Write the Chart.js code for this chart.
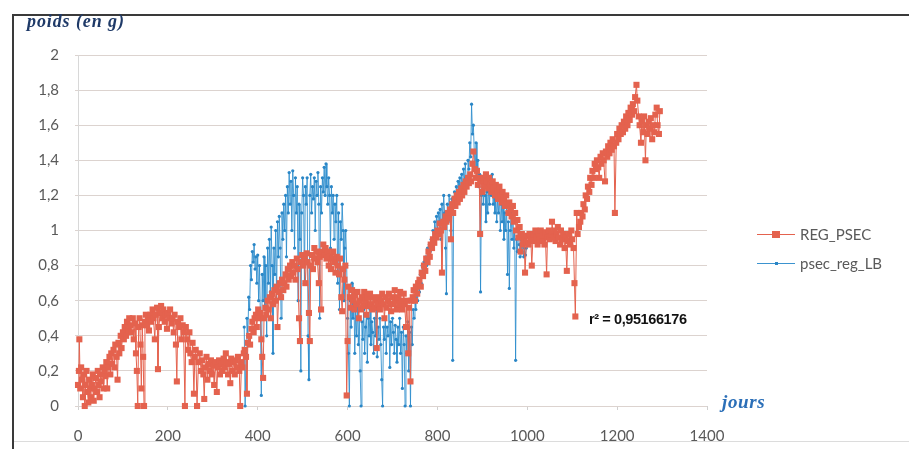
<!DOCTYPE html>
<html lang="fr">
<head>
<meta charset="utf-8">
<title>poids (en g)</title>
<script src="https://cdn.jsdelivr.net/npm/chart.js@4.4.1/dist/chart.umd.min.js"></script>
<style>
    html, body { margin: 0; padding: 0; background: #fff; }
    #wrap { position: relative; width: 909px; height: 449px; overflow: hidden; }
    #chart { position: absolute; left: 0; top: 0; }
    .frame-left { position: absolute; left: 12px; top: 14px; width: 2px; height: 435px; background: #3a3a3a; }
    .frame-top { position: absolute; left: 12px; top: 14px; width: 897px; height: 2px; background: #3a3a3a; }
    .frame-bottom { position: absolute; left: 14px; top: 441px; width: 895px; height: 1px; background: #dcdcdc; }
    .ytitle { position: absolute; left: 27px; top: 11px; font: italic bold 18px "Liberation Serif", serif; color: #1f3a68; letter-spacing: 0.9px; }
    .xtitle { position: absolute; left: 722px; top: 391px; font: italic bold 19px "Liberation Serif", serif; color: #2b6fb8; letter-spacing: 0.6px; }
    .r2 { position: absolute; left: 589px; top: 311px; font: bold 14.5px "Liberation Sans", sans-serif; color: #111; letter-spacing: -0.4px; }
    .legend { position: absolute; left: 757px; font: 15px Lato, sans-serif; color: #595959; }
    .legend .mark { position: absolute; left: 0; width: 38px; height: 1px; }
    .legend .dot { position: absolute; }
    .legend span { position: absolute; left: 43px; white-space: nowrap; }
</style>
</head>
<body>
<div id="wrap">
    <canvas id="chart" width="909" height="449"></canvas>
    <div class="frame-left"></div>
    <div class="frame-top"></div>
    <div class="frame-bottom"></div>
    <div class="ytitle">poids (en g)</div>
    <div class="xtitle">jours</div>
    <div class="r2">r² = 0,95166176</div>
    <div class="legend" style="top:225px">
        <div class="mark" style="top:9px;background:#e4624e"></div>
        <div class="dot" style="left:15px;top:6px;width:8px;height:7px;background:#e4624e"></div>
        <span style="top:0">REG_PSEC</span>
    </div>
    <div class="legend" style="top:254px">
        <div class="mark" style="top:9px;background:#3b93cf"></div>
        <div class="dot" style="left:18px;top:8px;width:3px;height:3px;background:#2a86c6"></div>
        <span style="top:0">psec_reg_LB</span>
    </div>
</div>
<script>
// Axis ticks
const xTickLabels = ['0', '200', '400', '600', '800', '1000', '1200', '1400'];
const yTickLabels = ['0', '0,2', '0,4', '0,6', '0,8', '1', '1,2', '1,4', '1,6', '1,8', '2'];

// REG_PSEC : [jour, poids]
const regPsec = [
    [0,0.12],[2,0.2],[3,0.38],[5,0.1],[7,0.22],[9,0.15],[11,0.05],[13,0.18],[15,0.0],[17,0.12],[19,0.2],[21,0.08],[23,0.02],[25,0.15],[27,0.1],[29,0.05],
    [31,0.12],[33,0.18],[35,0.03],[37,0.1],[40,0.16],[42,0.08],[44,0.2],[46,0.12],[48,0.05],[50,0.18],[52,0.14],[55,0.22],[57,0.1],[59,0.2],
    [61,0.17],[63,0.25],[65,0.1],[67,0.22],[70,0.28],[72,0.18],[74,0.3],[76,0.24],[79,0.32],[81,0.22],[83,0.35],[86,0.28],[88,0.15],[90,0.36],[92,0.3],[95,0.4],[97,0.33],[100,0.42],
    [102,0.38],[104,0.45],[107,0.4],[109,0.48],[112,0.43],[114,0.5],[117,0.46],[119,0.42],[122,0.5],[124,0.38],[127,0.47],[129,0.3],[131,0.2],[133,0.0],[135,0.45],[137,0.5],[139,0.35],[141,0.1],[143,0.46],[145,0.28],[147,0.0],[149,0.48],
    [151,0.52],[154,0.46],[156,0.5],[158,0.43],[161,0.52],[163,0.48],[166,0.55],[168,0.5],[171,0.38],[173,0.52],[176,0.56],[178,0.21],[180,0.45],[183,0.53],[185,0.57],[188,0.5],[190,0.55],[193,0.48],[195,0.52],[198,0.44],[200,0.53],[203,0.5],[205,0.55],[208,0.47],
    [210,0.5],[213,0.42],[215,0.52],[218,0.35],[220,0.14],[222,0.48],[225,0.45],[228,0.5],[230,0.38],[233,0.46],[235,0.42],[238,0.0],[240,0.45],[243,0.38],[245,0.32],[248,0.42],[250,0.3],[253,0.25],[255,0.36],[258,0.07],[260,0.28],[262,0.32],[265,0.0],[268,0.25],
    [271,0.3],[274,0.2],[276,0.26],[279,0.18],[281,0.04],[283,0.22],[286,0.28],[288,0.15],[291,0.24],[293,0.2],[296,0.26],[298,0.18],[301,0.23],[303,0.12],[306,0.25],[309,0.08],[311,0.22],[314,0.26],[316,0.18],[319,0.24],
    [321,0.2],[324,0.27],[326,0.22],[329,0.3],[331,0.25],[334,0.18],[336,0.24],[339,0.13],[341,0.27],[344,0.2],[346,0.25],[349,0.18],[351,0.26],[354,0.22],[356,0.28],[359,0.2],[361,0.0],[364,0.25],[366,0.22],[369,0.3],
    [371,0.32],[374,0.28],[376,0.07],[378,0.36],[381,0.4],[383,0.35],[386,0.44],[388,0.48],[391,0.42],[393,0.5],[396,0.52],[398,0.45],[401,0.55],[403,0.5],[406,0.53],[408,0.38],[410,0.28],[412,0.16],[414,0.5],[417,0.56],[419,0.52],
    [422,0.6],[424,0.55],[427,0.62],[429,0.5],[432,0.64],[434,0.58],[437,0.66],[439,0.6],[442,0.68],[444,0.45],[447,0.65],[449,0.7],[452,0.62],[454,0.72],[457,0.66],[459,0.7],[462,0.75],[464,0.68],[467,0.78],[469,0.72],[472,0.8],[474,0.74],[477,0.82],[479,0.76],
    [482,0.8],[484,0.72],[487,0.84],[489,0.78],[492,0.5],[494,0.37],[496,0.82],[499,0.86],[501,0.8],[504,0.84],[506,0.7],[509,0.87],[511,0.82],[514,0.53],[516,0.37],[518,0.8],[521,0.86],[523,0.78],[526,0.9],[528,0.84],[531,0.88],[533,0.82],[536,0.7],[538,0.85],[541,0.55],[543,0.88],
    [546,0.92],[548,0.86],[551,0.9],[553,0.84],[556,0.88],[558,0.8],[561,0.85],[563,0.78],[566,0.84],[568,0.88],[571,0.82],[573,0.76],[576,0.85],[578,0.8],[581,0.75],[583,0.84],[586,0.62],[588,0.54],[590,0.78],[593,0.72],[595,0.8],[598,0.06],[600,0.37],
    [602,0.68],[605,0.62],[607,0.56],[610,0.66],[612,0.6],[615,0.55],[617,0.63],[620,0.58],[622,0.65],[625,0.5],[627,0.6],[630,0.55],[632,0.62],[635,0.57],[637,0.65],[640,0.6],[642,0.52],[645,0.62],[647,0.57],[650,0.64],[652,0.58],[655,0.55],[657,0.62],[660,0.56],
    [662,0.6],[665,0.33],[667,0.58],[670,0.62],[672,0.55],[675,0.6],[677,0.64],[680,0.58],[682,0.5],[685,0.62],[687,0.56],[690,0.6],[692,0.64],[695,0.58],[697,0.54],[700,0.62],[702,0.58],[705,0.66],[707,0.6],[710,0.55],[712,0.62],[715,0.58],[717,0.65],[720,0.6],
    [722,0.55],[725,0.64],[727,0.58],[730,0.45],[732,0.6],[735,0.3],[737,0.56],[740,0.14],[742,0.6],[745,0.62],[747,0.66],[750,0.6],[752,0.68],[755,0.64],[757,0.7],
    [760,0.72],[763,0.68],[765,0.76],[768,0.74],[770,0.8],[773,0.77],[775,0.84],[778,0.82],[780,0.88],[783,0.85],[785,0.92],[788,0.9],[790,0.95],[793,0.93],[795,0.98],[798,0.96],[800,1.0],[803,0.98],[805,1.04],[808,1.0],[810,0.76],[813,1.05],[815,1.02],[818,1.08],
    [820,1.05],[823,1.1],[825,1.07],[828,1.12],[830,0.95],[833,1.15],[835,1.1],[838,1.18],[840,1.14],[843,1.2],[845,1.16],[848,1.22],[850,1.18],[853,1.24],[855,1.2],[858,1.26],[860,1.22],[863,1.28],[865,1.25],[868,1.3],[870,1.27],[873,1.32],[875,1.28],[878,1.38],[880,1.45],[883,1.35],
    [885,1.3],[888,1.34],[890,1.26],[893,1.3],[895,0.98],[898,1.28],[900,1.22],[903,1.3],[905,1.25],[908,1.32],[910,1.28],[913,1.24],[915,1.3],[918,1.26],[920,1.22],[923,1.28],[925,1.24],[928,1.2],[930,1.26],[933,1.22],[935,1.18],[938,1.25],[940,1.2],[943,1.16],
    [945,1.22],[948,1.18],[950,1.14],[953,1.2],[955,1.15],[958,1.1],[960,1.16],[963,1.12],[965,1.08],[968,1.14],[970,1.05],[973,1.1],[975,1.0],[978,1.06],[980,0.96],[983,1.02],[985,0.88],[988,0.98],[990,0.92],[993,0.95],[995,0.76],[998,0.93],
    [1000,0.97],[1003,0.92],[1005,0.98],[1008,0.95],[1010,0.8],[1013,0.98],[1015,0.94],[1018,1.0],[1020,0.96],[1023,0.92],[1025,0.98],[1028,0.95],[1030,1.0],[1033,0.94],[1035,0.97],[1038,0.92],[1040,0.99],[1043,0.75],[1045,0.96],[1048,1.0],[1050,0.95],[1053,0.98],
    [1055,1.05],[1058,0.96],[1060,1.0],[1063,0.94],[1065,0.98],[1068,1.02],[1070,0.96],[1073,0.92],[1075,1.0],[1078,0.95],[1080,0.98],[1083,0.9],[1085,0.96],[1088,0.77],[1090,0.94],[1093,0.98],[1095,0.92],[1098,1.0],[1100,0.95],[1103,0.9],[1105,0.7],[1107,0.51],[1110,1.1],[1112,0.98],
    [1115,1.02],[1118,1.05],[1120,1.1],[1123,1.08],[1125,1.15],[1128,1.12],[1130,1.2],[1133,1.18],[1135,1.25],[1138,1.22],[1140,1.3],[1143,1.26],[1145,1.34],[1148,1.3],[1150,1.38],[1153,1.35],[1155,1.4],[1158,1.36],[1160,1.3],[1163,1.42],[1165,1.38],[1168,1.44],[1170,1.4],[1173,1.28],
    [1175,1.45],[1178,1.42],[1180,1.48],[1183,1.44],[1185,1.5],[1188,1.46],[1190,1.52],[1193,1.48],[1195,1.1],[1198,1.5],[1200,1.55],[1203,1.52],[1205,1.58],[1208,1.55],[1210,1.6],[1213,1.56],[1215,1.62],[1218,1.58],[1220,1.65],[1223,1.6],[1225,1.67],[1228,1.63],[1230,1.7],[1233,1.66],
    [1235,1.72],[1238,1.68],[1240,1.76],[1243,1.83],[1245,1.74],[1248,1.65],[1250,1.6],[1253,1.5],[1255,1.62],[1258,1.56],[1260,1.65],[1263,1.4],[1265,1.6],[1268,1.55],[1270,1.62],[1273,1.58],[1275,1.64],[1278,1.52],[1280,1.6],[1283,1.56],[1285,1.66],[1288,1.7],[1290,1.6],[1293,1.55],[1295,1.68]
];

// psec_reg_LB : [jour, poids]
const psecRegLB = [
    [370,0.45],[372,0.0],[374,0.3],[376,0.5],[378,0.4],[380,0.62],[382,0.55],[384,0.8],[386,0.72],[388,0.88],[390,0.82],[392,0.92],[394,0.78],[396,0.85],[398,0.7],[400,0.86],[402,0.6],[404,0.8],[406,0.5],[408,0.06],[410,0.75],[412,0.6],[414,0.85],[416,0.55],[418,0.8],
    [420,0.4],[422,0.9],[424,0.7],[426,0.95],[428,0.65],[430,1.02],[432,0.8],[434,0.3],[436,0.9],[438,0.75],[440,1.0],[442,0.6],[444,1.05],[446,0.85],[448,1.08],[450,0.9],[452,0.5],[454,1.1],[456,0.95],[458,1.15],[460,1.0],[462,1.2],[464,0.85],[466,1.25],[468,1.1],
    [470,1.33],[472,1.15],[474,1.28],[476,1.0],[478,1.34],[480,1.2],[482,0.9],[484,1.3],[486,1.1],[488,1.25],[490,0.6],[492,1.15],[494,0.95],[496,0.2],[498,1.1],[500,1.3],[502,1.2],[504,0.7],[506,1.25],[508,1.15],[510,1.3],[512,0.4],[514,0.15],[516,1.2],[518,1.32],
    [520,1.1],[522,1.25],[524,1.18],[526,1.3],[528,1.0],[530,1.28],[532,1.2],[534,1.33],[536,1.15],[538,0.5],[540,1.25],[542,1.1],[544,1.3],[546,1.22],[548,1.36],[550,1.2],[552,1.38],[554,1.25],[556,1.15],[558,1.3],[560,1.2],[562,0.9],[564,1.25],[566,1.1],[568,1.2],
    [570,0.95],[572,1.15],[574,1.05],[576,1.2],[578,0.7],[580,1.1],[582,0.55],[584,1.05],[586,0.95],[588,1.15],[590,1.0],[592,0.6],[594,0.9],[596,1.0],[598,0.8],[600,0.5],[602,0.3],[604,0.0],[606,0.6],[608,0.45],[610,0.7],[612,0.5],[614,0.65],[616,0.3],[618,0.55],
    [620,0.4],[622,0.58],[624,0.35],[626,0.5],[628,0.2],[630,0.0],[632,0.48],[634,0.38],[636,0.55],[638,0.3],[640,0.45],[642,0.52],[644,0.25],[646,0.5],[648,0.4],[650,0.55],[652,0.35],[654,0.48],[656,0.42],[658,0.3],[660,0.5],[662,0.4],[664,0.55],[666,0.28],[668,0.45],
    [670,0.38],[672,0.5],[674,0.35],[676,0.15],[678,0.0],[680,0.45],[682,0.38],[684,0.5],[686,0.3],[688,0.45],[690,0.4],[692,0.55],[694,0.22],[696,0.48],[698,0.35],[700,0.5],[702,0.42],[704,0.3],[706,0.46],[708,0.38],[710,0.25],[712,0.45],[714,0.35],[716,0.5],[718,0.3],
    [720,0.42],[722,0.1],[724,0.45],[726,0.35],[728,0.0],[730,0.4],[732,0.3],[734,0.48],[736,0.2],[738,0.42],[740,0.0],[742,0.45],[744,0.35],[746,0.55],[748,0.5],[750,0.62],[752,0.55],[754,0.68],[756,0.6],[758,0.72],[760,0.65],[762,0.75],[764,0.7],[766,0.8],[768,0.74],
    [770,0.82],[772,0.78],[774,0.85],[776,0.8],[778,0.9],[780,0.86],[782,0.92],[784,0.88],[786,0.95],[788,0.9],[790,1.0],[792,0.94],[794,1.05],[796,0.98],[798,1.08],[800,1.0],[802,1.1],[804,1.05],[806,1.12],[808,0.95],[810,1.15],[812,1.05],[814,1.2],[816,1.1],[818,0.9],
    [820,0.64],[822,1.15],[824,1.05],[826,1.2],[828,1.1],[830,1.0],[832,1.18],[834,0.26],[836,1.1],[838,1.22],[840,1.15],[842,1.25],[844,1.18],[846,1.28],[848,1.2],[850,1.3],[852,1.22],[854,1.32],[856,1.25],[858,1.35],[860,1.28],[862,1.38],[864,1.3],[866,1.25],[868,1.4],
    [870,1.35],[872,1.5],[874,1.42],[876,1.72],[878,1.55],[880,1.6],[882,1.45],[884,1.35],[886,1.5],[888,1.3],[890,1.4],[892,1.25],[894,1.32],[896,0.65],[898,1.2],[900,1.3],[902,1.15],[904,1.25],[906,1.2],[908,1.05],[910,1.22],[912,1.1],[914,1.25],[916,1.15],[918,1.3],
    [920,1.2],[922,1.32],[924,1.15],[926,1.25],[928,1.1],[930,1.2],[932,1.05],[934,1.18],[936,1.1],[938,1.2],[940,1.0],[942,1.15],[944,1.05],[946,1.2],[948,0.95],[950,1.1],[952,1.0],[954,1.15],[956,0.75],[958,1.05],[960,0.67],[962,1.0],[964,1.1],[966,0.95],[968,1.05],
    [970,0.9],[972,1.0],[974,0.26],[976,0.95],[978,0.88],[980,1.0],[982,0.92],[984,0.85],[986,0.95],[988,0.88],[990,0.92],[992,0.85],[994,0.9],[996,0.86],[998,0.9]
];

const toPoints = rows => rows.map(r => ({ x: r[0], y: r[1] }));

const ctx = document.getElementById('chart');
new Chart(ctx, {
    type: 'scatter',
    data: {
        datasets: [
            {
                label: 'REG_PSEC',
                data: toPoints(regPsec),
                showLine: true,
                borderColor: '#e4624e',
                backgroundColor: '#e4624e',
                borderWidth: 1,
                pointStyle: 'rect',
                pointRadius: 4.3,
                pointBorderWidth: 0,
                clip: 8
            },
            {
                label: 'psec_reg_LB',
                data: toPoints(psecRegLB),
                showLine: true,
                borderColor: 'rgba(42, 140, 204, 0.85)',
                backgroundColor: '#2a86c6',
                borderWidth: 1,
                pointStyle: 'circle',
                pointRadius: 1.6,
                pointBorderWidth: 0,
                clip: 8
            }
        ]
    },
    options: {
        responsive: false,
        animation: false,
        layout: { padding: { top: 55, right: 202, bottom: 0, left: 0 } },
        plugins: {
            legend: { display: false },
            tooltip: { enabled: false }
        },
        scales: {
            x: {
                type: 'linear',
                min: 0,
                max: 1400,
                afterBuildTicks: s => { s.ticks = xTickLabels.map(t => ({ value: Number(t) })); },
                afterFit: s => { s.height = 43; },
                grid: { display: true, drawOnChartArea: false, drawTicks: true, tickLength: 4, color: '#d0d0d0' },
                border: { display: false },
                ticks: {
                    callback: (v, i) => xTickLabels[i],
                    color: '#595959',
                    font: { family: 'Lato', size: 15 },
                    padding: 17,
                    maxRotation: 0
                }
            },
            y: {
                min: 0,
                max: 2,
                afterBuildTicks: s => { s.ticks = yTickLabels.map((t, i) => ({ value: i * 0.2 })); },
                afterFit: s => { s.width = 78; },
                grid: { color: '#dcd3cf', lineWidth: 1, tickLength: 3 },
                border: { display: true, color: '#d8d8d8' },
                ticks: {
                    callback: (v, i) => yTickLabels[i],
                    color: '#595959',
                    font: { family: 'Lato', size: 15 },
                    padding: 16
                }
            }
        }
    }
});
</script>
</body>
</html>
